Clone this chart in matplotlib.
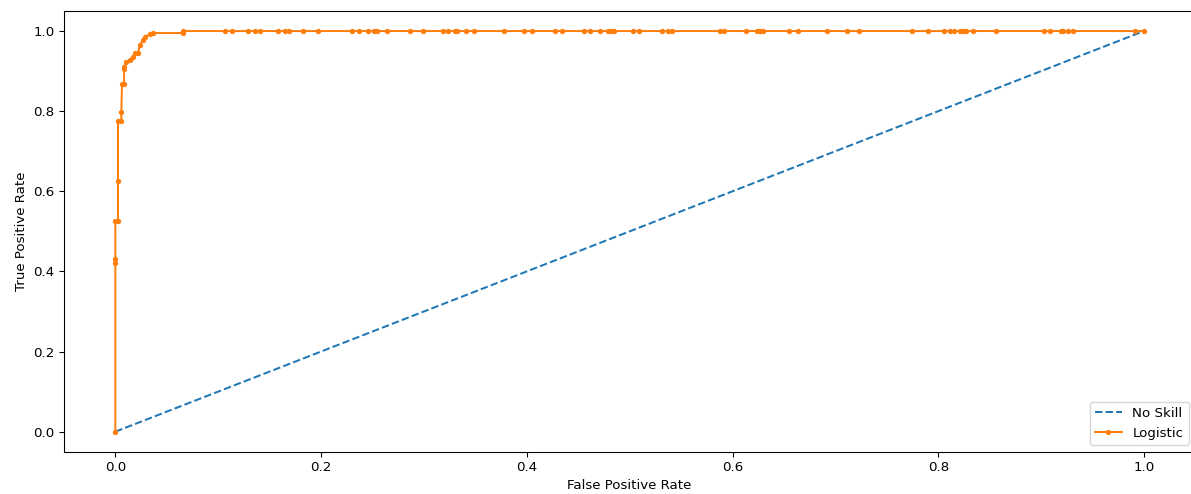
import numpy as np
import matplotlib
matplotlib.use('Agg')
import matplotlib.pyplot as plt

# no-skill reference line
ns_fpr = [0, 1]
ns_tpr = [0, 1]

# logistic regression ROC points
lr_fpr = [0, 0, 0, 0, 0.0026, 0.0026, 0.0026, 0.0058, 0.0058, 0.0065,
          0.0085, 0.0085, 0.0085, 0.0107, 0.014, 0.0172, 0.0189, 0.0221,
          0.0237, 0.0269, 0.0286, 0.0334, 0.0366, 0.0655, 0.0655,
          0.1066, 0.1132, 0.1293, 0.1358, 0.1407, 0.158, 0.165, 0.169,
          0.1828, 0.1973, 0.2298, 0.2369, 0.2459, 0.2515, 0.2547, 0.2644,
          0.2865, 0.2988, 0.3183, 0.3237, 0.3302, 0.3325, 0.3406, 0.3487,
          0.3779, 0.3973, 0.4054, 0.4274, 0.4345, 0.4556, 0.4615, 0.471,
          0.4793, 0.4816, 0.4851, 0.5035, 0.5091, 0.5317, 0.5376, 0.5415,
          0.5878, 0.5917, 0.6128, 0.6235, 0.6267, 0.6299, 0.6549, 0.664,
          0.6921, 0.711, 0.7232, 0.7748, 0.7903, 0.8059, 0.8114, 0.8153,
          0.8211, 0.8243, 0.8269, 0.8335, 0.8561, 0.9028, 0.9086, 0.9193,
          0.9215, 0.9264, 0.9307, 0.9914, 1.0]
lr_tpr = [0, 0.422, 0.432, 0.527, 0.527, 0.626, 0.776, 0.776, 0.797, 0.867,
          0.867, 0.905, 0.911, 0.923, 0.928, 0.936, 0.944, 0.944,
          0.965, 0.977, 0.986, 0.992, 0.995, 0.995, 1.0] + [1.0] * 69

W, H, DPI = 1191, 494, 96
fig = plt.figure(figsize=(W / DPI, H / DPI), dpi=DPI)
# axes runs past the right edge, like the cropped original
ax = fig.add_axes([63.9 / W, 42.3 / H, 1131.5 / W, 440.7 / H])

ax.plot(ns_fpr, ns_tpr, linestyle='--', label='No Skill')
ax.plot(lr_fpr, lr_tpr, marker='.', label='Logistic')

ax.set_xlabel('False Positive Rate')
ax.set_ylabel('True Positive Rate')
ax.legend(loc='lower right')

fig.savefig('out.png', dpi=DPI)
